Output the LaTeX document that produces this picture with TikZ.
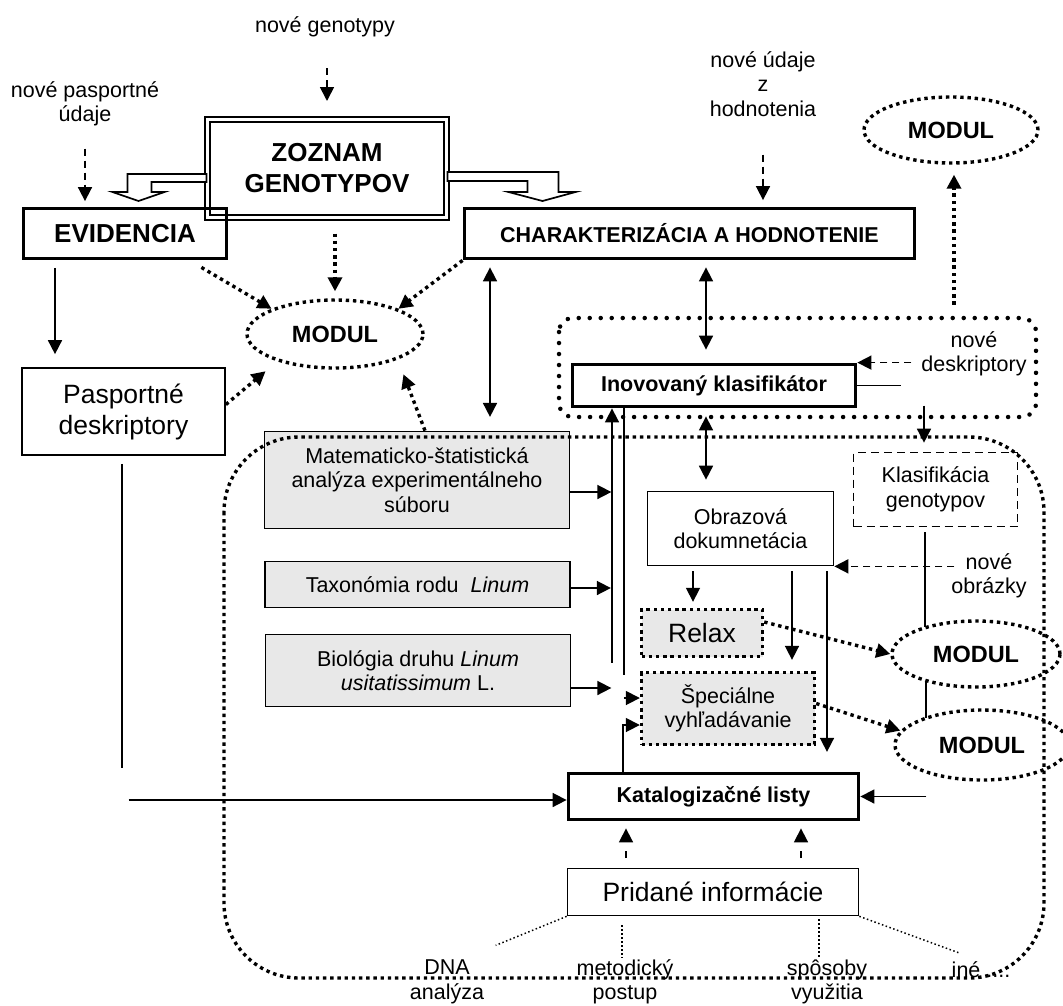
\documentclass[tikz,border=0pt]{standalone}
\usepackage{fontspec}
\setmainfont{Liberation Sans}
\usetikzlibrary{arrows.meta,shapes.geometric}
\definecolor{boxgray}{RGB}{232,232,232}
\newcommand{\fsn}{\fontsize{21.5}{24.5}\selectfont}
\newcommand{\fsb}{\fontsize{21.5}{24}\selectfont\bfseries}
\newcommand{\fsl}{\fontsize{26.5}{31}\selectfont}
\newcommand{\fsh}{\fontsize{26}{31}\selectfont\bfseries}
\newcommand{\fsm}{\fontsize{23.5}{28}\selectfont\bfseries}

\begin{document}
\begin{tikzpicture}[x=1pt,y=-1pt,
						>={Triangle[length=14pt,width=14pt]},
						every node/.style={font=\fsn,align=center,inner sep=0pt},
						thinbox/.style={draw,line width=1.7pt},
						thickbox/.style={draw,line width=3.8pt,font=\fsb},
						graybox/.style={thinbox,fill=boxgray},
						dotbox/.style={draw,fill=boxgray,line width=3.4pt,dash pattern=on 3.4pt off 3.8pt},
						dashbox/.style={draw,line width=1.7pt,dash pattern=on 8pt off 5pt},
						modul/.style={ellipse,draw,line width=3.4pt,dash pattern=on 3.4pt off 3.8pt,
							font=\fsm,minimum width=174pt,minimum height=66pt},
						arr/.style={->,line width=1.7pt},
						dblarr/.style={<->,line width=1.7pt},
						dasharr/.style={->,line width=1.7pt,dash pattern=on 7pt off 5pt},
						dasharrb/.style={->,line width=1.7pt,dash pattern=on 7pt off 11pt},
						dotarr/.style={->,line width=3.4pt,dash pattern=on 3.4pt off 3.8pt},
						hollow/.style={draw,fill=white,line width=1.7pt,line join=miter},
						fine/.style={line width=1.5pt,dash pattern=on 1.5pt off 2.5pt},
						region/.style={line width=3.4pt,dash pattern=on 3.4pt off 3.8pt,rounded corners=75pt},
						rdots/.style={line width=4.5pt,line cap=round,dash pattern=on 0pt off 11pt,rounded corners=14pt}]

		\useasboundingbox (0,0) rectangle (1063,1005);

		\node (t1) at (325,27) {nové genotypy};
		\node (t2) at (85,104) {nové pasportné\\údaje};
		\node (t3) at (763,84) {nové údaje\\z\\hodnotenia};
		\node (t4) at (974,354) {nové\\deskriptory};
		\node (t5) at (989,576) {nové\\obrázky};

		\node[draw,double,double distance=2.6pt,line width=2pt,font=\fsh,
			minimum width=239pt,minimum height=98pt] (zg) at (327,168.5) {ZOZNAM\\GENOTYPOV};
		\node[thickbox,font=\fsh,minimum width=203pt,minimum height=50pt] (ev) at (125,233.5) {EVIDENCIA};
		\node[thickbox,minimum width=450pt,minimum height=50pt] (ch) at (689.5,233.5) {CHARAKTERIZÁCIA A HODNOTENIE};
		\node[thinbox,font=\fsl,minimum width=203pt,minimum height=87pt] (ps) at (123.5,411.5) {Pasportné\\deskriptory};

		\node[modul] (m0) at (951,130) {MODUL};
		\node[modul,minimum width=176pt,minimum height=68pt] (m1) at (335,334) {MODUL};
		\node[modul,minimum width=168pt] (m2) at (976,654) {MODUL};
		\node[modul,minimum height=70pt] (m3) at (982,745) {MODUL};

		\node[thickbox,minimum width=283pt,minimum height=42pt] (in) at (714,385.5) {Inovovaný klasifikátor};
		\node[graybox,minimum width=305pt,minimum height=97pt] (mat) at (417,480) {Matematicko-štatistická\\analýza experimentálneho\\súboru};
		\node[graybox,minimum width=305pt,minimum height=46pt] (tax) at (417.5,584.5) {Taxonómia rodu\ \ \textit{Linum}};
		\node[graybox,minimum width=305pt,minimum height=72pt] (bio) at (418,670.5) {Biológia druhu \textit{Linum}\\\textit{usitatissimum} L.};
		\node[thinbox,minimum width=186pt,minimum height=74pt] (ob) at (740.5,528.5) {Obrazová\\dokumnetácia};
		\node[dashbox,minimum width=164pt,minimum height=74pt] (kl) at (935.5,489.5) {Klasifikácia\\genotypov};
		\node[dotbox,font=\fsl,minimum width=121pt,minimum height=47pt] (rx) at (702,633) {Relax};
		\node[dotbox,minimum width=173pt,minimum height=72pt] (sv) at (728,708.5) {Špeciálne\\vyhľadávanie};
		\node[thickbox,minimum width=290pt,minimum height=46pt] (kt) at (713.5,796.5) {Katalogizačné listy};
		\node[thinbox,font=\fsl,minimum width=291pt,minimum height=47pt] (pi) at (713,892) {Pridané informácie};

		\node (b1) at (447,982) {DNA\\analýza};
		\node (b2) at (625,982) {metodický\\postup};
		\node (b3) at (827,982) {spôsoby\\využitia};
		\node[anchor=base] (b4) at (981,977) {iné ....};

		\draw[hollow] ([yshift=-5.5pt]zg.west) -- ++(-79,0) -- ++(0,18) -- ++(-15,0) -- ++(26,9)
			-- ++(26,-9) -- ++(-13,0) -- ++(0,-10) -- ++(55,0) -- cycle;
		\draw[hollow] ([yshift=-3.5pt]zg.east) -- ++(111,0) -- ++(0,20) -- ++(17,0) -- ++(-33,9)
			-- ++(-34,-9) -- ++(19,0) -- ++(0,-11) -- ++(-80,0) -- cycle;

		\draw[dasharr,shorten <=31pt,shorten >=17.5pt] (t1.south -| zg.north) -- (zg.north);
		\draw[dasharr,shorten <=22pt,shorten >=5.5pt] (t2.south) -- (t2.south |- ev.north);
		\draw[dasharr,shorten <=38pt,shorten >=6.5pt] (t3.south) -- (t3.south |- ch.north);

		\draw[dotarr] ([xshift=-27pt,yshift=-7pt]ev.south east) -- (m1.north west);
		\draw[dotarr,shorten <=15pt,shorten >=7pt] (zg.south -| m1.north) -- (m1.north);
		\draw[dotarr] (ch.south west) -- (m1.north east);
		\draw[dotarr] ([yshift=7pt]ps.east) -- ([xshift=-6pt,yshift=-12pt]m1.south west);
		\draw[dotarr] ([xshift=8pt]mat.north) -- ([xshift=5pt,yshift=-15pt]m1.south east);
		\draw[dotarr,shorten >=10pt] ([xshift=3pt,yshift=-140pt]m0.south) -- ([xshift=3pt]m0.south);

		\draw[arr,shorten <=7.5pt,shorten >=13pt] ([xshift=-70pt]ev.south) -- ([xshift=-70pt]ev.south |- ps.north);
		\draw[line width=1.7pt] ([xshift=-1.5pt,yshift=-8pt]ps.south) -- ++(0,304);
		\draw[arr] ([xshift=-438pt,yshift=-3.5pt]kt.west) -- ([yshift=-3.5pt]kt.west);

		\draw[dblarr,shorten <=7pt,shorten >=13pt] ([xshift=16.5pt]ch.south) -- ([xshift=16.5pt]ch.south |- in.north);
		\draw[dblarr,shorten <=7pt] ([xshift=-199.5pt]ch.south) -- ++(0,156.5);
		\draw[dasharr] ([xshift=54pt]in.north east) -- (in.north east);
		\draw[line width=1.7pt] (in.east) -- ++(44,0);
		\draw[arr,shorten >=9pt] ([xshift=-11.5pt,yshift=46pt]kl.north) -- ([xshift=-11.5pt]kl.north);
		\draw[dblarr,shorten <=8pt,shorten >=11pt] ([xshift=-8pt]in.south) -- ([xshift=-8pt]in.south |- ob.north);

		\draw[arr] ([xshift=-102pt,yshift=-254.5pt]in.south) -- ([xshift=-102pt]in.south);
		\draw[line width=1.7pt] ([xshift=-90pt]in.south) -- ++(0,266.5);
		\draw[arr] ([yshift=-12pt]mat.east) -- ++(41,0);
		\draw[arr] ([yshift=-3.5pt]tax.east) -- ++(40,0);
		\draw[arr] ([yshift=-17.5pt]bio.east) -- ++(40,0);
		\draw[arr] ([xshift=-16pt,yshift=10.5pt]sv.west) -- ([yshift=10.5pt]sv.west);
		\draw[arr] ([xshift=-90.5pt]kt.north) |- ([yshift=-16.5pt]sv.west);

		\draw[arr,shorten <=5pt,shorten >=6pt] ([xshift=-47.5pt]ob.south) -- ([xshift=-47.5pt]ob.south |- rx.north);
		\draw[arr,shorten <=5pt] ([xshift=51.5pt]ob.south) -- ++(0,93.5);
		\draw[arr,shorten <=5pt] ([xshift=86.5pt]ob.south) -- ++(0,185.5);
		\draw[dasharr] ([xshift=120pt]ob.south east) -- (ob.south east);
		\draw[line width=1.7pt] ([xshift=-10.5pt,yshift=-5pt]kl.south) -- ++(0,95);
		\draw[line width=1.7pt] ([xshift=-50pt,yshift=-28pt]m2.center) -- ++(0,36);

		\draw[dotarr] ([yshift=11pt]rx.east) -- (m2.west);
		\draw[dotarr] ([yshift=5pt]sv.east) -- (m3.170);
		\draw[arr] ([xshift=66pt]kt.east) -- (kt.east);

		\draw[dasharrb,shorten >=7pt] ([xshift=-87pt,yshift=9.5pt]pi.north) -- ([xshift=-87pt]pi.north |- kt.south);
		\draw[dasharrb,shorten >=7pt] ([xshift=88pt,yshift=9.5pt]pi.north) -- ([xshift=88pt]pi.north |- kt.south);

		\draw[fine] (pi.south west) -- ++(-71,29);
		\draw[fine] ([xshift=-91pt,yshift=-9pt]pi.south) -- ++(0,33);
		\draw[fine] ([xshift=106pt,yshift=-3pt]pi.south) -- ++(0,40);
		\draw[fine] (pi.south east) -- ++(101,37);

		\draw[rdots] (559,318) rectangle (1036,417);
		\draw[region] (224,437) rectangle (1044,978);

	\end{tikzpicture}
\end{document}
